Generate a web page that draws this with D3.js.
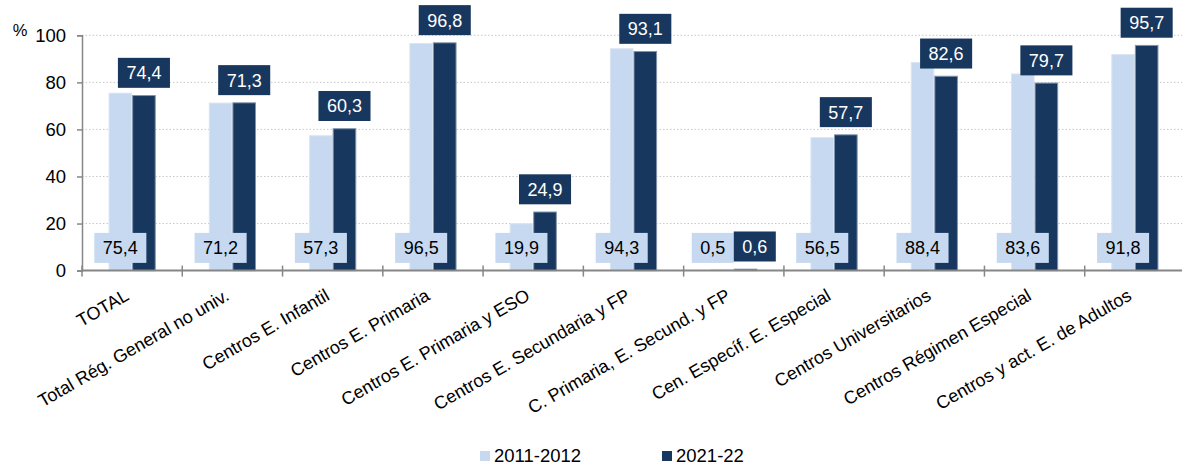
<!DOCTYPE html>
<html>
<head>
<meta charset="utf-8">
<script src="https://cdn.jsdelivr.net/npm/d3@7"></script>
<style>
  html, body { margin: 0; padding: 0; background: #fff; }
  svg { display: block; font-family: "Liberation Sans", Arial, sans-serif; }
</style>
</head>
<body>
<svg id="chart" width="1182" height="465"></svg>
<script>
// Categories of centres
const categories = [
  "TOTAL",
  "Total Rég. General no univ.",
  "Centros E. Infantil",
  "Centros E. Primaria",
  "Centros E. Primaria y ESO",
  "Centros E. Secundaria y FP",
  "C. Primaria, E. Secund. y FP",
  "Cen. Específ. E. Especial",
  "Centros Universitarios",
  "Centros Régimen Especial",
  "Centros y act. E. de Adultos"
];
const seriesNames = ["2011-2012", "2021-22"];
const values2011 = [75.4, 71.2, 57.3, 96.5, 19.9, 94.3, 0.5, 56.5, 88.4, 83.6, 91.8];
const values2021 = [74.4, 71.3, 60.3, 96.8, 24.9, 93.1, 0.6, 57.7, 82.6, 79.7, 95.7];
const yTicks = [0, 20, 40, 60, 80, 100];

const colors = ["#c6d9f0", "#17375e"];
const strokes = ["#dbe5f1", "#8093ad"];
const fmt = v => d3.format(".1f")(v).replace(".", ",");

const svg = d3.select("#chart");
const plotLeft = 82, plotRight = 1185, plotTop = 35.3, plotBottom = 270.6;

const x = d3.scaleBand().domain(categories).range([plotLeft, plotRight]).paddingInner(0).paddingOuter(0);
const barW = 23.6;
const y = d3.scaleLinear().domain([0, 100]).range([plotBottom, plotTop]);

// gridlines
svg.append("g")
  .selectAll("line")
  .data(yTicks.filter(d => d > 0))
  .join("line")
  .attr("x1", plotLeft).attr("x2", plotRight)
  .attr("y1", d => y(d)).attr("y2", d => y(d))
  .attr("stroke", "#c8c8c8")
  .attr("stroke-width", 1)
  .attr("stroke-dasharray", "1.5,2");

// bars
const rows = categories.map((c, i) => ({ c, v: [values2011[i], values2021[i]] }));
const g = svg.append("g");
rows.forEach(r => {
  const cx = x(r.c) + x.bandwidth() / 2;
  r.v.forEach((v, s) => {
    const x0 = s === 0 ? cx - barW : cx;
    g.append("rect")
      .attr("x", x0 + 0.5).attr("y", y(v))
      .attr("width", barW - 1).attr("height", plotBottom - y(v))
      .attr("fill", colors[s])
      .attr("stroke", strokes[s])
      .attr("stroke-width", 1);
  });
});

// y axis
const yAxis = svg.append("g")
  .attr("transform", `translate(${plotLeft},0)`)
  .call(d3.axisLeft(y).tickValues(yTicks).tickSize(5).tickPadding(11).tickFormat(d3.format("d")));
yAxis.select(".domain").attr("stroke", "#868686").attr("stroke-width", 1.5);
yAxis.selectAll(".tick line").attr("stroke", "#868686").attr("stroke-width", 1.5);
yAxis.selectAll(".tick text")
  .attr("font-size", 18.5).attr("fill", "#000")
  .attr("font-family", "Liberation Sans, Arial, sans-serif");

svg.append("text")
  .attr("x", 20).attr("y", 36)
  .attr("text-anchor", "middle")
  .attr("font-size", 16.5)
  .text("%");

// x axis
svg.append("line")
  .attr("x1", plotLeft).attr("x2", plotRight)
  .attr("y1", plotBottom).attr("y2", plotBottom)
  .attr("stroke", "#868686").attr("stroke-width", 2);
svg.append("g")
  .selectAll("line")
  .data(categories.concat(["__end"]))
  .join("line")
  .attr("x1", (d, i) => plotLeft + i * x.bandwidth())
  .attr("x2", (d, i) => plotLeft + i * x.bandwidth())
  .attr("y1", plotBottom - 5).attr("y2", plotBottom + 6)
  .attr("stroke", "#868686").attr("stroke-width", 1.5);

// category labels
svg.append("g")
  .selectAll("text")
  .data(categories)
  .join("text")
  .attr("transform", d => `translate(${x(d) + x.bandwidth() / 2 - 2},${plotBottom + 28.5}) rotate(-30)`)
  .attr("text-anchor", "end")
  .attr("font-size", 18)
  .attr("fill", "#000")
  .text(d => d);

// value labels
const fontSize = 18, boxH = 30, padX = 8.5, gapY = 7.7;
const measure = svg.append("text").attr("font-size", fontSize).attr("visibility", "hidden");
const textWidth = s => { measure.text(s); return measure.node().getComputedTextLength(); };

const labelG = svg.append("g");
rows.forEach(r => {
  const cx = x(r.c) + x.bandwidth() / 2;
  const boxes = r.v.map((v, s) => {
    const t = fmt(v);
    const w = textWidth(t) + 2 * padX;
    const center = s === 0 ? cx - barW / 2 : cx + barW / 2;
    // series 1: inside base; series 2: outside end
    const bottomY = s === 0 ? plotBottom - gapY : y(v) - gapY;
    return { t, w, center, bottomY, s };
  });
  // keep boxes on the same row from overlapping
  const [a, b] = boxes;
  if (Math.abs(a.bottomY - b.bottomY) < boxH) {
    const overlap = (a.center + a.w / 2) - (b.center - b.w / 2);
    if (overlap > 0) {
      a.center = cx - a.w / 2;
      b.center = cx + b.w / 2;
    }
  }
  boxes.forEach(bx => {
    labelG.append("rect")
      .attr("x", bx.center - bx.w / 2).attr("y", bx.bottomY - boxH)
      .attr("width", bx.w).attr("height", boxH)
      .attr("fill", colors[bx.s]);
    labelG.append("text")
      .attr("x", bx.center).attr("y", bx.bottomY - boxH / 2)
      .attr("dy", "0.36em")
      .attr("text-anchor", "middle")
      .attr("font-size", fontSize)
      .attr("fill", bx.s === 0 ? "#000" : "#fff")
      .text(bx.t);
  });
});
measure.remove();

// legend
const legendX = [480, 662];
const leg = svg.append("g");
seriesNames.forEach((n, i) => {
  leg.append("rect")
    .attr("x", legendX[i]).attr("y", 451)
    .attr("width", 10).attr("height", 10)
    .attr("fill", colors[i]);
  leg.append("text")
    .attr("x", legendX[i] + 14).attr("y", 456)
    .attr("dy", "0.35em")
    .attr("font-size", 18.5)
    .text(n);
});
</script>
</body>
</html>
